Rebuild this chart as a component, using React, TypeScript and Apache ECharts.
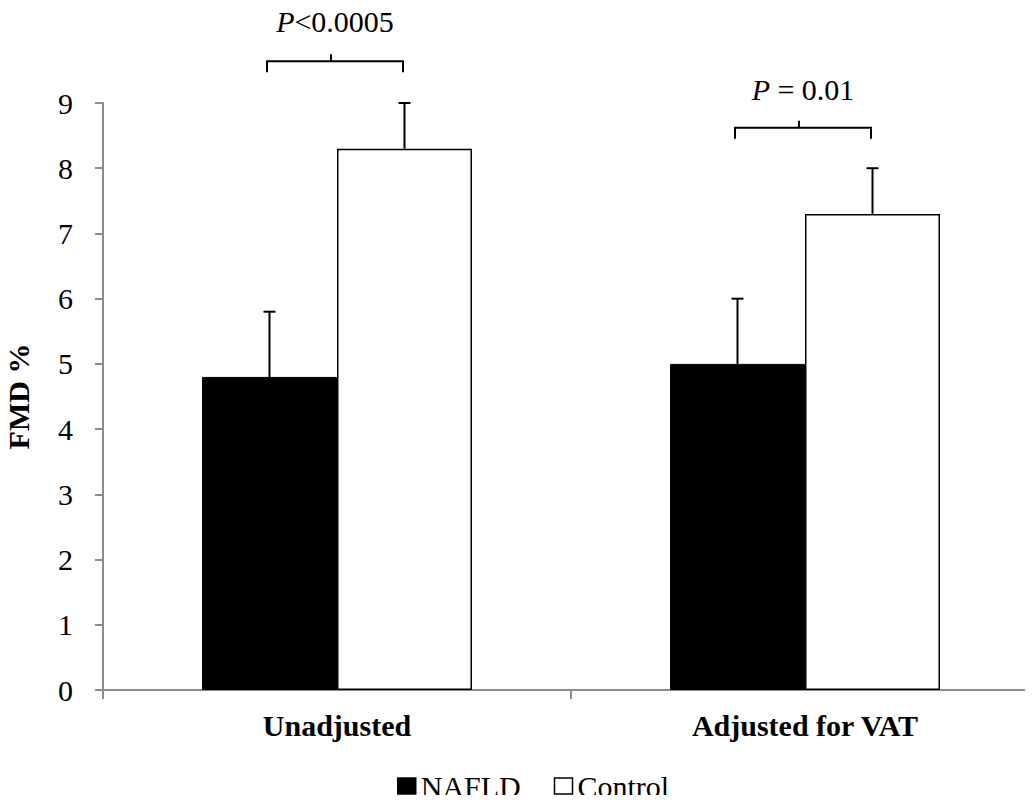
import React, { useEffect, useRef } from "react";
import * as echarts from "echarts";

const categories = ["Unadjusted", "Adjusted for VAT"];
const naflMeans = [4.8, 5.0];
const naflUpper = [5.8, 6.0];
const controlMeans = [8.3, 7.3];
const controlUpper = [9.0, 8.0];
const bracketLevels = [9.64, 8.62];
const bracketTextLevels = [10.25, 9.21];
const pOperators = ["<0.0005", " = 0.01"];
const yTicksMax = 9;

const FONT = "Liberation Serif";
const BAR_W = 135;

export default function App() {
  const ref = useRef<HTMLDivElement>(null);
  useEffect(() => {
    if (!ref.current) return;
    const chart = echarts.init(ref.current, undefined, { renderer: "svg" });

    const errData: number[][] = [];
    naflMeans.forEach((v, i) => errData.push([i, v, naflUpper[i], 0]));
    controlMeans.forEach((v, i) => errData.push([i, v, controlUpper[i], 1]));

    const bracketData = bracketLevels.map((lv, i) => [i, lv, bracketTextLevels[i]]);

    chart.setOption({
      animation: false,
      backgroundColor: "#fff",
      grid: {
        left: 103,
        top: 103,
        width: 936,
        height: 587,
        containLabel: false,
        outerBoundsMode: "none",
      },
      legend: {
        left: 392,
        top: 766,
        itemWidth: 18,
        itemHeight: 16,
        itemGap: 33,
        icon: "rect",
        textStyle: { fontFamily: FONT, fontSize: 30, color: "#000" },
        data: [
          { name: "NAFLD", itemStyle: { color: "#000", borderColor: "#000", borderWidth: 1.5 } },
          { name: "Control", itemStyle: { color: "#fff", borderColor: "#000", borderWidth: 1.5 } },
        ],
      },
      xAxis: {
        type: "category",
        data: categories,
        axisLine: { lineStyle: { color: "#8c8c8c", width: 2 } },
        axisTick: { show: true, length: 9, lineStyle: { color: "#8c8c8c", width: 2 } },
        axisLabel: {
          fontFamily: FONT,
          fontSize: 30,
          fontWeight: "bold",
          color: "#000",
          margin: 20,
        },
      },
      yAxis: {
        type: "value",
        min: 0,
        max: yTicksMax,
        interval: 1,
        name: "FMD %",
        nameLocation: "middle",
        nameGap: 70,
        nameTextStyle: { fontFamily: FONT, fontSize: 30, fontWeight: "bold", color: "#000" },
        axisLine: { show: true, lineStyle: { color: "#8c8c8c", width: 2 } },
        axisTick: { show: true, length: 8, lineStyle: { color: "#8c8c8c", width: 2 } },
        splitLine: { show: false },
        axisLabel: { fontFamily: FONT, fontSize: 30, color: "#000", margin: 30 },
      },
      series: [
        {
          name: "NAFLD",
          type: "bar",
          data: naflMeans,
          barWidth: BAR_W,
          barGap: "0%",
          itemStyle: { color: "#000", borderColor: "#000", borderWidth: 1 },
        },
        {
          name: "Control",
          type: "bar",
          data: controlMeans,
          barWidth: BAR_W,
          barGap: "0%",
          itemStyle: { color: "#fff", borderColor: "#000", borderWidth: 1.5 },
        },
        {
          type: "custom",
          clip: false,
          silent: true,
          data: errData,
          encode: { x: 0, y: [1, 2] },
          renderItem: (params: any, api: any) => {
            const cat = api.value(0);
            const side = api.value(3) === 0 ? -1 : 1;
            const base = api.coord([cat, api.value(1)]);
            const top = api.coord([cat, api.value(2)]);
            const x = base[0] + (side * BAR_W) / 2;
            const st = { stroke: "#000", lineWidth: 2 };
            return {
              type: "group",
              children: [
                { type: "line", shape: { x1: x, y1: base[1], x2: x, y2: top[1] }, style: st },
                { type: "line", shape: { x1: x - 6, y1: top[1], x2: x + 6, y2: top[1] }, style: st },
              ],
            };
          },
        },
        {
          type: "custom",
          clip: false,
          silent: true,
          data: bracketData,
          encode: { x: 0, y: 1 },
          renderItem: (params: any, api: any) => {
            const i = params.dataIndex;
            const cat = api.value(0);
            const p = api.coord([cat, api.value(1)]);
            const t = api.coord([cat, api.value(2)]);
            const cx = p[0] - 2;
            const half = 68;
            const st = { stroke: "#000", lineWidth: 2, fill: "none" };
            return {
              type: "group",
              children: [
                {
                  type: "polyline",
                  shape: {
                    points: [
                      [cx - half, p[1] + 11],
                      [cx - half, p[1]],
                      [cx + half, p[1]],
                      [cx + half, p[1] + 11],
                    ],
                  },
                  style: st,
                },
                { type: "line", shape: { x1: cx - 4, y1: p[1], x2: cx - 4, y2: p[1] - 7 }, style: st },
                {
                  type: "text",
                  x: cx,
                  y: t[1],
                  style: {
                    text: "{i|P}{r|" + pOperators[i] + "}",
                    align: "center",
                    verticalAlign: "middle",
                    rich: {
                      i: { fontFamily: FONT, fontSize: 30, fontStyle: "italic", fill: "#000" },
                      r: { fontFamily: FONT, fontSize: 30, fill: "#000" },
                    },
                  },
                },
              ],
            };
          },
        },
      ],
    });
    return () => chart.dispose();
  }, []);
  return <div ref={ref} style={{ width: 1033, height: 803, margin: -8 }} />;
}
